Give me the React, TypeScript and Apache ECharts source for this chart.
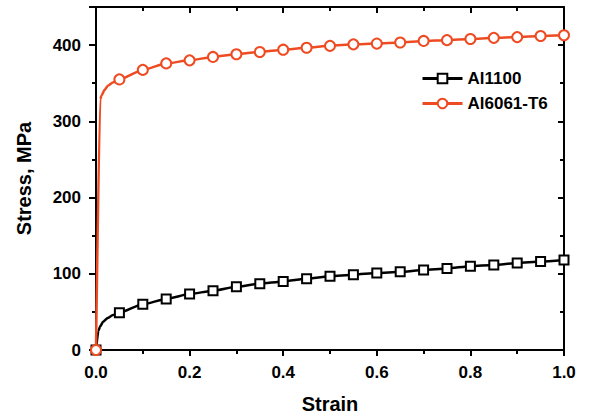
import React, { useEffect, useRef } from "react";
import * as echarts from "echarts";

const markerStrain = [0, 0.05, 0.1, 0.15, 0.2, 0.25, 0.3, 0.35, 0.4, 0.45, 0.5, 0.55, 0.6, 0.65, 0.7, 0.75, 0.8, 0.85, 0.9, 0.95, 1.0];
const al1100Markers = [0, 49, 60, 67, 73.4, 77.8, 83, 87, 90, 93.5, 96.6, 98.8, 101, 102.5, 105, 107, 110, 111.5, 114, 116, 118];
const al6061Markers = [0, 355, 367.5, 376, 380, 384.5, 388, 391, 394, 396.5, 399, 401, 402, 403.5, 405.5, 406.5, 408, 409.5, 410.5, 412, 413];
// early-strain curve points (no markers)
const al1100EarlyStrain = [0.005, 0.009, 0.015, 0.025, 0.035];
const al1100EarlyStress = [25, 31, 37, 42, 45.5];
const al6061EarlyStrain = [0.009, 0.012, 0.018, 0.026, 0.036];
const al6061EarlyStress = [329, 334, 341, 347, 351];

const xTicks = ["0.0", "0.2", "0.4", "0.6", "0.8", "1.0"];

function buildData(early: number[], earlyY: number[], mY: number[]) {
  const pts: any[] = [];
  pts.push({ value: [markerStrain[0], mY[0]] });
  early.forEach((s, i) => pts.push({ value: [s, earlyY[i]], symbol: "none" }));
  for (let i = 1; i < markerStrain.length; i++) pts.push({ value: [markerStrain[i], mY[i]] });
  return pts;
}

const FONT = "'Liberation Sans', Arial, sans-serif";
const ORANGE = "#EE4B22";

export default function App() {
  const ref = useRef<HTMLDivElement>(null);
  useEffect(() => {
    if (!ref.current) return;
    const chart = echarts.init(ref.current, null, { renderer: "svg" });
    const axisCommon = {
      axisLine: { show: true, onZero: false, lineStyle: { color: "#000", width: 2 } },
      splitLine: { show: false },
    };
    chart.setOption({
      animation: false,
      backgroundColor: "#fff",
      grid: { left: 96, right: 26, top: 7, bottom: 69, containLabel: false },
      legend: {
        orient: "vertical",
        left: 416,
        top: 65,
        itemWidth: 40,
        itemHeight: 12,
        itemGap: 8,
        textStyle: { fontFamily: FONT, fontWeight: "bold", fontSize: 17, color: "#000" },
        data: [
          { name: "Al1100", itemStyle: { color: "#fff", borderColor: "#000", borderWidth: 2 }, lineStyle: { color: "#000", width: 3 } },
          { name: "Al6061-T6", itemStyle: { color: "#fff", borderColor: ORANGE, borderWidth: 2 }, lineStyle: { color: ORANGE, width: 3 } },
        ],
      },
      xAxis: [
        {
          type: "value",
          min: 0,
          max: 1,
          interval: 0.2,
          position: "bottom",
          ...axisCommon,
          name: "Strain",
          nameLocation: "middle",
          nameGap: 44,
          nameTextStyle: { fontFamily: FONT, fontWeight: "bold", fontSize: 20, color: "#000" },
          axisTick: { show: true, inside: false, length: 6, lineStyle: { color: "#000", width: 2 } },
          minorTick: { show: true, splitNumber: 2, length: 4, lineStyle: { color: "#000", width: 2 } },
          axisLabel: {
            fontFamily: FONT,
            fontWeight: "bold",
            fontSize: 17,
            color: "#000",
            margin: 14,
            formatter: (v: number) => xTicks[Math.round(v / 0.2)] ?? "",
          },
        },
        {
          type: "value",
          min: 0,
          max: 1,
          interval: 0.2,
          position: "top",
          ...axisCommon,
          axisTick: { show: true, inside: true, length: 6, lineStyle: { color: "#000", width: 2 } },
          minorTick: { show: true, splitNumber: 2, length: 4, lineStyle: { color: "#000", width: 2 } },
          axisLabel: { show: false },
        },
      ],
      yAxis: [
        {
          type: "value",
          min: 0,
          max: 450,
          interval: 100,
          position: "left",
          ...axisCommon,
          name: "Stress, MPa",
          nameLocation: "middle",
          nameGap: 62,
          nameTextStyle: { fontFamily: FONT, fontWeight: "bold", fontSize: 20, color: "#000" },
          axisTick: { show: true, inside: false, length: 7, lineStyle: { color: "#000", width: 2 } },
          minorTick: { show: true, splitNumber: 2, length: 4, lineStyle: { color: "#000", width: 2 } },
          axisLabel: {
            fontFamily: FONT,
            fontWeight: "bold",
            fontSize: 17,
            color: "#000",
            margin: 15,
            showMaxLabel: false,
          },
        },
        {
          type: "value",
          min: 0,
          max: 450,
          interval: 100,
          position: "right",
          ...axisCommon,
          axisTick: { show: true, inside: true, length: 6, lineStyle: { color: "#000", width: 2 } },
          minorTick: { show: true, splitNumber: 2, length: 4, lineStyle: { color: "#000", width: 2 } },
          axisLabel: { show: false },
        },
      ],
      series: [
        {
          name: "Al1100",
          type: "line",
          xAxisIndex: 0,
          yAxisIndex: 0,
          data: buildData(al1100EarlyStrain, al1100EarlyStress, al1100Markers),
          symbol: "rect",
          symbolSize: 9,
          showAllSymbol: true,
          smooth: 0.2,
          smoothMonotone: "x",
          clip: false,
          lineStyle: { color: "#000", width: 2.5 },
          itemStyle: { color: "#fff", borderColor: "#000", borderWidth: 2 },
          z: 2,
        },
        {
          name: "Al6061-T6",
          type: "line",
          xAxisIndex: 0,
          yAxisIndex: 0,
          data: buildData(al6061EarlyStrain, al6061EarlyStress, al6061Markers),
          symbol: "circle",
          symbolSize: 10,
          showAllSymbol: true,
          smooth: 0.2,
          smoothMonotone: "x",
          clip: false,
          lineStyle: { color: ORANGE, width: 2.5 },
          itemStyle: { color: "#fff", borderColor: ORANGE, borderWidth: 2 },
          z: 3,
        },
      ],
    });
    return () => chart.dispose();
  }, []);
  return <div ref={ref} style={{ width: 590, height: 419, position: "absolute", left: 0, top: 0 }} />;
}
